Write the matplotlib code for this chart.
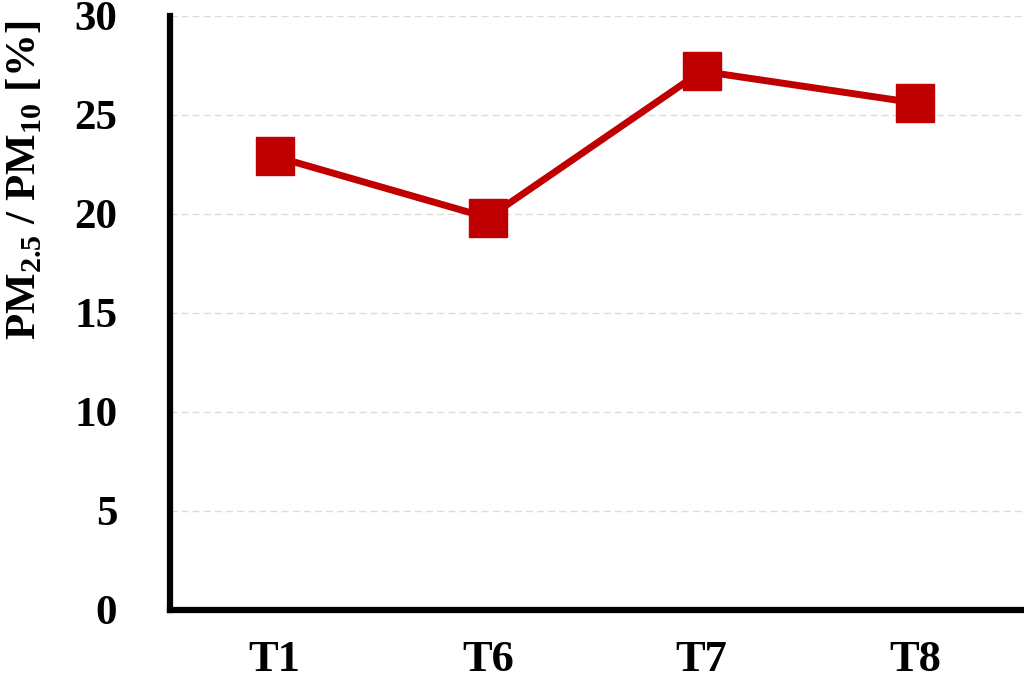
import numpy as np
import matplotlib
matplotlib.use("Agg")
from matplotlib import pyplot as plt

sites = ['T1', 'T6', 'T7', 'T8']
ratio = [22.9, 19.8, 27.2, 25.6]
yticks = [0, 5, 10, 15, 20, 25, 30]

plt.rcParams['font.family'] = 'serif'
plt.rcParams['font.serif'] = ['Liberation Serif', 'DejaVu Serif']
plt.rcParams['font.weight'] = 'bold'
plt.rcParams['mathtext.fontset'] = 'custom'
plt.rcParams['mathtext.rm'] = 'Liberation Serif:bold'
plt.rcParams['mathtext.bf'] = 'Liberation Serif:bold'

fig = plt.figure(figsize=(10.24, 6.83), dpi=100)
ax = fig.add_axes([0.166, 0.107, 0.832, 0.870])

x = np.arange(len(sites))
ax.plot(x, ratio, color='#C00000', lw=5, marker='s', ms=27,
        markeredgecolor='#C00000', zorder=3)

ax.set_xlim(-0.49, 3.5)
ax.set_ylim(0, 30)
ax.set_yticks(yticks)
ax.set_xticks(x)
ax.set_xticklabels(sites)
ax.tick_params(axis='both', length=0)
ax.tick_params(axis='y', labelsize=31, pad=38)
ax.tick_params(axis='x', labelsize=32, pad=22)

ax.yaxis.grid(True, color='#dcdcdc', ls=(0, (5, 3)), lw=1)
ax.set_axisbelow(True)
for s in ['top', 'right']:
    ax.spines[s].set_visible(False)
for s in ['left', 'bottom']:
    ax.spines[s].set_linewidth(4.5)
    ax.spines[s].set_capstyle('projecting')

ax.set_ylabel(r'PM$_{\mathregular{2.5}}$ / PM$_{\mathregular{10}}$ [%]',
              fontsize=31, fontweight='bold')
ax.yaxis.set_label_coords(-0.148, 0.722)

fig.savefig('out.png', dpi=100)
